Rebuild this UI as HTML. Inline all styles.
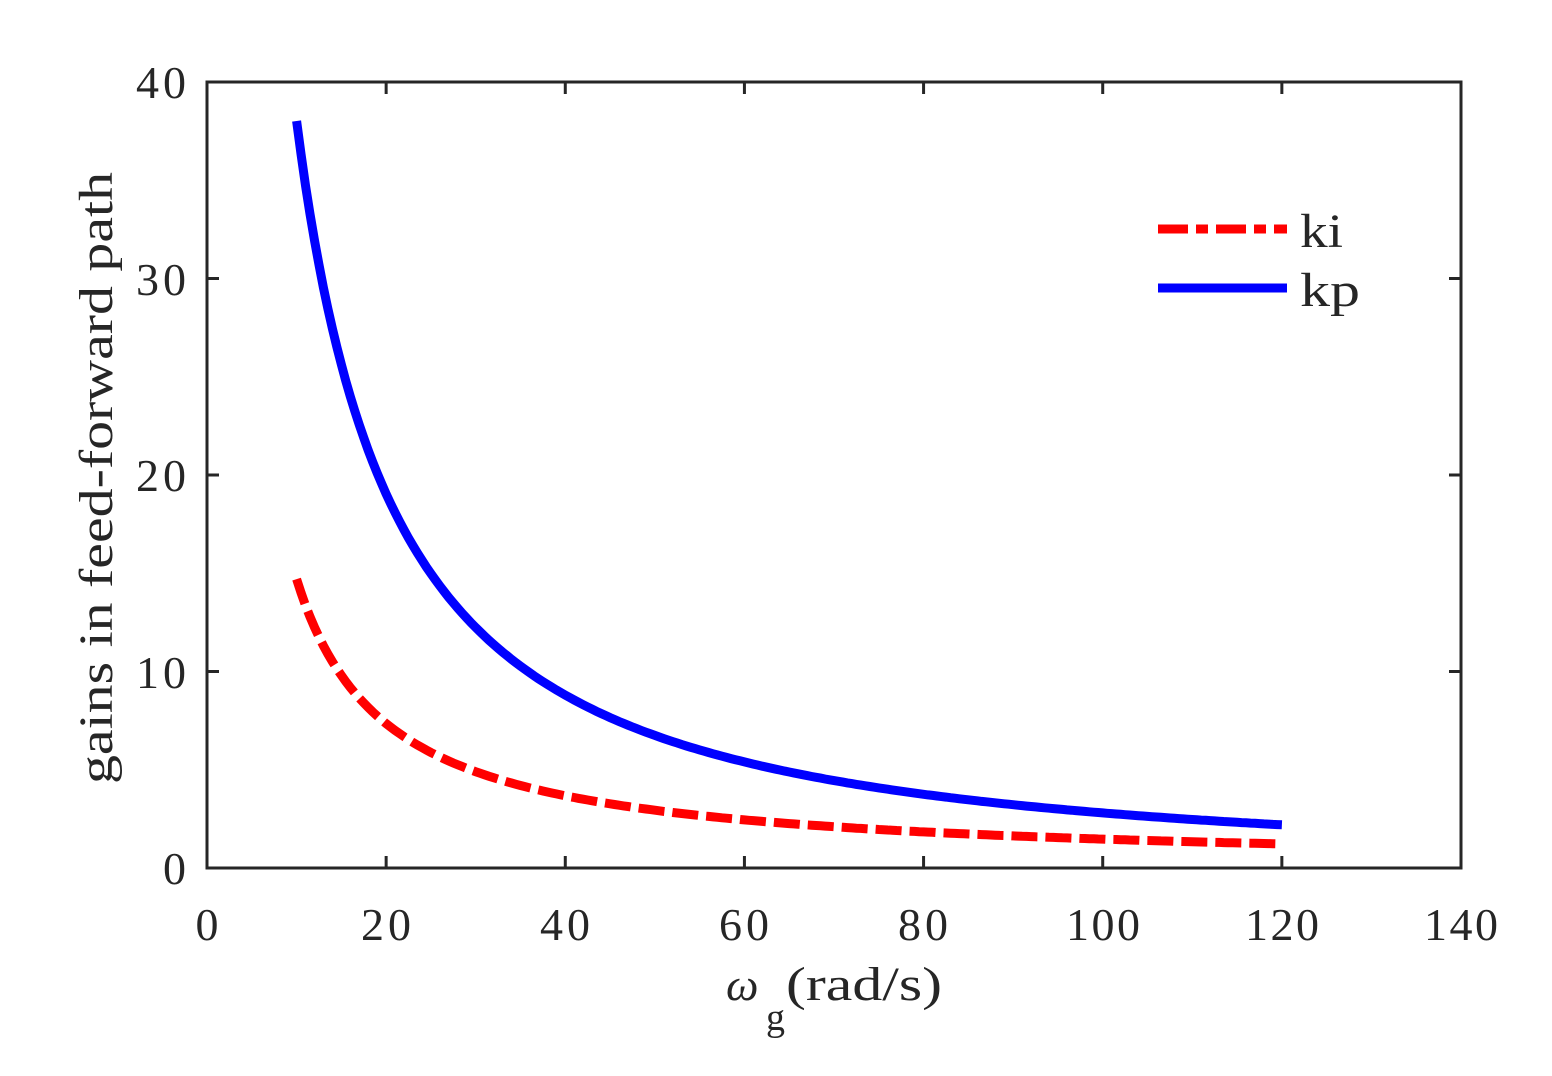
<!DOCTYPE html>
<html><head><meta charset="utf-8"><style>
html,body{margin:0;padding:0;background:#fff;}
svg text{font-family:"Liberation Serif",serif;fill:#262626;}
</style></head><body>
<svg id="s" width="1552" height="1071" viewBox="0 0 1552 1071" xmlns="http://www.w3.org/2000/svg">
<rect width="1552" height="1071" fill="#fff"/>
<g id="ticks" stroke="#262626" stroke-width="3"></g>
<rect x="207" y="82" width="1254" height="786" fill="none" stroke="#262626" stroke-width="3"/>
<g font-size="46" text-anchor="middle">
<text x="207" y="940">0</text><text x="386" y="940" textLength="50">20</text><text x="565" y="940" textLength="50">40</text>
<text x="744" y="940" textLength="50">60</text><text x="923" y="940" textLength="50">80</text><text x="1103" y="940" textLength="74">100</text>
<text x="1282" y="940" textLength="74">120</text><text x="1461" y="940" textLength="74">140</text>
</g>
<g font-size="46" text-anchor="end">
<text x="186" y="884">0</text><text x="186" y="688" textLength="50">10</text><text x="186" y="491" textLength="50">20</text>
<text x="186" y="295" textLength="50">30</text><text x="186" y="98" textLength="50">40</text>
</g>
<text x="0" y="0" font-size="48" text-anchor="middle" textLength="612" lengthAdjust="spacingAndGlyphs" transform="translate(112,478) rotate(-90)">gains in feed-forward path</text>
<text x="726" y="1000" font-size="46" font-style="italic">ω</text>
<text x="766" y="1030" font-size="38">g</text>
<text x="786" y="1000" font-size="48" textLength="156" lengthAdjust="spacingAndGlyphs">(rad/s)</text>
<path id="kp" fill="none" stroke="#0000ff" stroke-width="9"/>
<path id="ki" fill="none" stroke="#ff0000" stroke-width="9" stroke-dasharray="26 8"/>
<line x1="1158" y1="229" x2="1287" y2="229" stroke="#ff0000" stroke-width="9" stroke-dasharray="30 8 12 8"/>
<line x1="1158" y1="288" x2="1287" y2="288" stroke="#0000ff" stroke-width="9"/>
<text x="1300" y="247" font-size="48" textLength="43" lengthAdjust="spacingAndGlyphs">ki</text>
<text x="1300" y="306" font-size="48" textLength="60" lengthAdjust="spacingAndGlyphs">kp</text>
</svg>
<script>
function X(v){return 207+v*1254/140;}function Y(v){return 868-v*786/40;}
var t=document.getElementById('ticks'),h='';
for(var i=0;i<=140;i+=20){var x=X(i);h+='<line x1="'+x+'" y1="868" x2="'+x+'" y2="856"/><line x1="'+x+'" y1="82" x2="'+x+'" y2="94"/>';}
for(var j=0;j<=40;j+=10){var y=Y(j);h+='<line x1="207" y1="'+y+'" x2="219" y2="'+y+'"/><line x1="1461" y1="'+y+'" x2="1449" y2="'+y+'"/>';}
t.innerHTML=h;
function kpf(x){var u=Math.log(x),u0=Math.log(10),u1=Math.log(40);return Math.exp(3.638-1.0556*(u-u0)-0.0836*(u-u0)*(u-u1));}
var d1='',d2='';
for(var x=10;x<=120.001;x+=0.5){var a=kpf(x),b=147/x;d1+=(x==10?'M':'L')+X(x).toFixed(1)+' '+Y(a).toFixed(1);d2+=(x==10?'M':'L')+X(x).toFixed(1)+' '+Y(b).toFixed(1);}
document.getElementById('kp').setAttribute('d',d1);document.getElementById('ki').setAttribute('d',d2);
</script>
</body></html>
